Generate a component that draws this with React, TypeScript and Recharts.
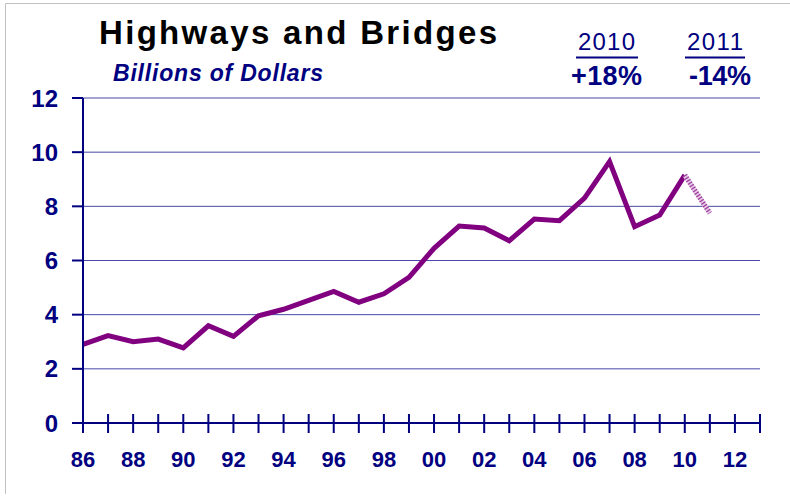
import React from "react";
import { LineChart, Line, XAxis, YAxis, CartesianGrid } from "recharts";

const years = [1986, 1987, 1988, 1989, 1990, 1991, 1992, 1993, 1994, 1995, 1996, 1997, 1998, 1999, 2000, 2001, 2002, 2003, 2004, 2005, 2006, 2007, 2008, 2009, 2010, 2011];
const spending = [2.9, 3.23, 3.0, 3.1, 2.77, 3.59, 3.2, 3.96, 4.2, 4.53, 4.86, 4.46, 4.77, 5.38, 6.45, 7.27, 7.2, 6.73, 7.53, 7.47, 8.3, 9.65, 7.25, 7.68, 9.15, null];
const projected = [null, null, null, null, null, null, null, null, null, null, null, null, null, null, null, null, null, null, null, null, null, null, null, null, 9.15, 7.75];
const xTicks = [1986, 1987, 1988, 1989, 1990, 1991, 1992, 1993, 1994, 1995, 1996, 1997, 1998, 1999, 2000, 2001, 2002, 2003, 2004, 2005, 2006, 2007, 2008, 2009, 2010, 2011, 2012, 2013];
const yTicks = [0, 2, 4, 6, 8, 10, 12];

const data = years.map((y, i) => ({ year: y, value: spending[i], proj: projected[i] }));

const NAVY = "#000080";
const FONT = "'Liberation Sans', Arial, sans-serif";
const TICK_SIZE = 10;
const TICK_MARGIN = 17;

const XTick = (props: any) => {
  const { x, y, payload } = props;
  const axisY = y - TICK_SIZE - TICK_MARGIN;
  const yr = payload.value as number;
  const show = yr % 2 === 0;
  return (
    <g>
      <line x1={x} x2={x} y1={axisY - 9} y2={axisY + 10} stroke={NAVY} strokeWidth={2} />
      {show && (
        <text x={x} y={axisY + 44} textAnchor="middle" fill={NAVY} fontSize={22} fontWeight="bold" fontFamily={FONT}>
          {String(yr % 100).padStart(2, "0")}
        </text>
      )}
    </g>
  );
};

export default function App() {
  return (
    <div style={{ position: "absolute", left: 0, top: 0, width: 790, height: 496, background: "#fff" }}>
      <LineChart width={790} height={496} data={data} margin={{ top: 98, right: 30, bottom: 0, left: 0 }}>
        <CartesianGrid vertical={false} stroke="#4848a8" strokeWidth={1} />
        <XAxis
          dataKey="year"
          type="number"
          domain={[1986, 2013]}
          ticks={xTicks}
          interval={0}
          height={73}
          tickLine={false}
          tickSize={TICK_SIZE}
          tickMargin={TICK_MARGIN}
          axisLine={{ stroke: NAVY, strokeWidth: 2 }}
          tick={<XTick />}
        />
        <YAxis
          type="number"
          domain={[0, 12]}
          ticks={yTicks}
          interval={0}
          width={83}
          tickSize={11}
          tickMargin={14}
          tickLine={{ stroke: NAVY, strokeWidth: 2 }}
          axisLine={{ stroke: NAVY, strokeWidth: 2 }}
          tick={{ fill: NAVY, fontSize: 24, fontWeight: "bold", fontFamily: FONT }}
        />
        <Line dataKey="value" stroke="#800080" strokeWidth={5} dot={false} isAnimationActive={false} connectNulls={false} />
        <Line dataKey="proj" stroke="#e6c8e6" strokeWidth={5} dot={false} isAnimationActive={false} />
        <Line dataKey="proj" stroke="#9a3a9a" strokeWidth={5} strokeDasharray="1.2 1.8" dot={false} isAnimationActive={false} />
      </LineChart>
      <svg width={790} height={496} style={{ position: "absolute", left: 0, top: 0, pointerEvents: "none" }}>
        <line x1={5.5} y1={3.5} x2={790} y2={3.5} stroke="#c0c0c0" strokeWidth={1} />
        <line x1={5.5} y1={3.5} x2={5.5} y2={494} stroke="#c0c0c0" strokeWidth={1} />
        <text x={99} y={44} fontSize={33} fontWeight="bold" fill="#000" fontFamily={FONT} textLength={398} lengthAdjust="spacing">
          Highways and Bridges
        </text>
        <text x={113} y={81} fontSize={23} fontWeight="bold" fontStyle="italic" fill={NAVY} fontFamily={FONT} textLength={210} lengthAdjust="spacing">
          Billions of Dollars
        </text>
        <text x={578} y={49.5} fontSize={24} fill={NAVY} fontFamily={FONT} textLength={57} lengthAdjust="spacing">2010</text>
        <line x1={576} x2={638} y1={57.5} y2={57.5} stroke={NAVY} strokeWidth={2} />
        <text x={687} y={49.5} fontSize={24} fill={NAVY} fontFamily={FONT} textLength={56} lengthAdjust="spacing">2011</text>
        <line x1={685} x2={745} y1={57.5} y2={57.5} stroke={NAVY} strokeWidth={2} />
        <text x={571} y={85} fontSize={27} fontWeight="bold" fill={NAVY} fontFamily={FONT} textLength={71} lengthAdjust="spacing">+18%</text>
        <text x={689} y={85} fontSize={27} fontWeight="bold" fill={NAVY} fontFamily={FONT} textLength={62} lengthAdjust="spacing">-14%</text>
      </svg>
    </div>
  );
}
